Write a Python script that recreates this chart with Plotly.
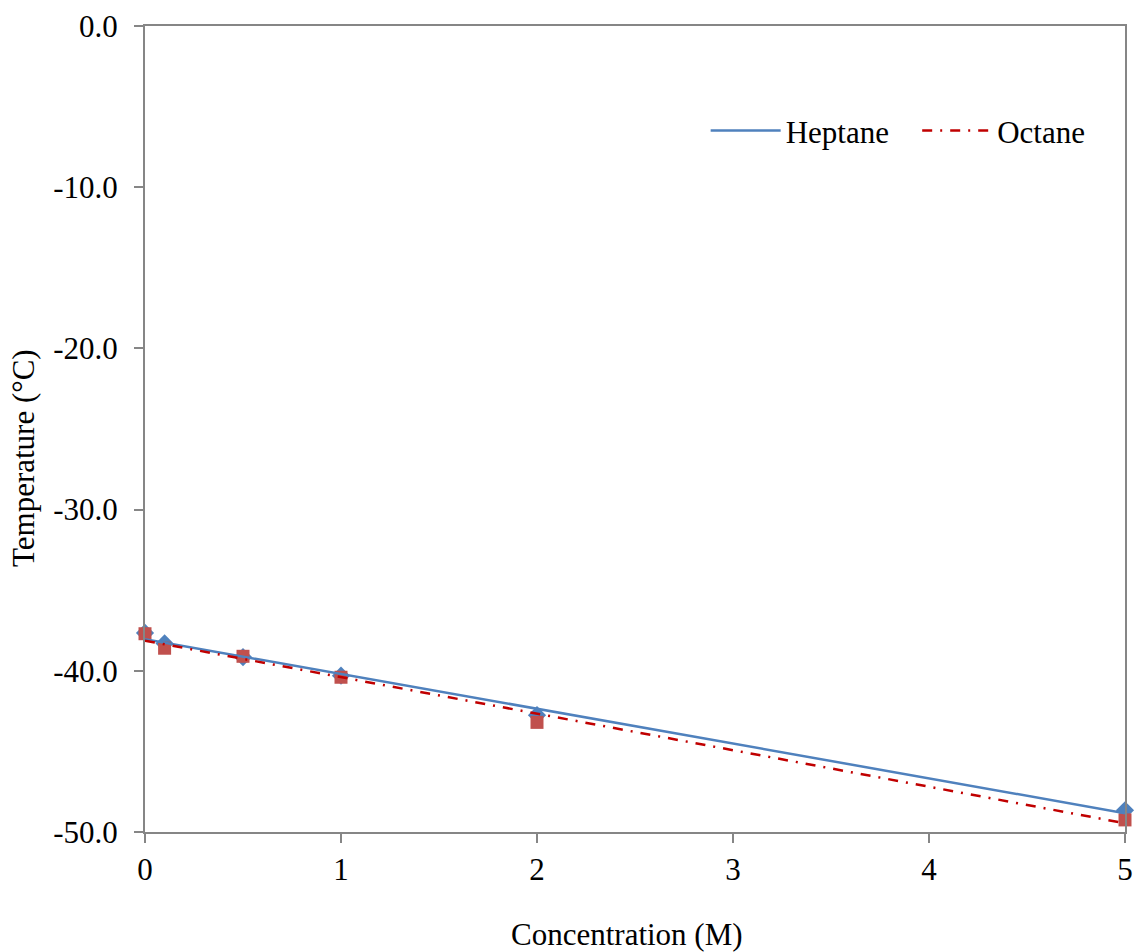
import numpy as np
import plotly.graph_objects as go

# Data
concentration = [0, 0.1, 0.5, 1, 2, 5]
heptane = [-37.65, -38.3, -39.15, -40.3, -42.75, -48.65]
octane = [-37.7, -38.6, -39.1, -40.4, -43.2, -49.25]
series_names = ["Heptane", "Octane"]

x_ticks = [0, 1, 2, 3, 4, 5]
y_ticks = [0, -10, -20, -30, -40, -50]

FONT = "Liberation Serif"
BLUE = "#4F81BD"
RED_M = "#C0504D"
RED_L = "#C00000"
GRID = "#868686"

def linfit(x, y):
    k, b = np.polyfit(np.array(x, float), np.array(y, float), 1)
    xs = np.array([min(x), max(x)], float)
    return xs, k * xs + b

fig = go.Figure()
fig.add_trace(go.Scatter(x=concentration, y=heptane, mode="markers",
                         marker=dict(symbol="diamond", size=14, color=BLUE),
                         showlegend=False, cliponaxis=False))
fig.add_trace(go.Scatter(x=concentration, y=octane, mode="markers",
                         marker=dict(symbol="square", size=13, color=RED_M),
                         showlegend=False, cliponaxis=False))
hx, hy = linfit(concentration, heptane)
ox, oy = linfit(concentration, octane)
fig.add_trace(go.Scatter(x=hx, y=hy, mode="lines",
                         name=series_names[0] + "\u00a0\u00a0\u00a0",
                         line=dict(color=BLUE, width=2.5), cliponaxis=False))
fig.add_trace(go.Scatter(x=ox, y=oy, mode="lines", name=series_names[1],
                         line=dict(color=RED_L, width=2.5, dash="10px,8px,2px,8px"),
                         cliponaxis=False))

tickfont = dict(family=FONT, size=31, color="black")

fig.update_layout(
    width=1139, height=952,
    margin=dict(l=145, r=14, t=26, b=120),
    paper_bgcolor="white", plot_bgcolor="white",
    font=dict(family=FONT, size=31, color="black"),
    legend=dict(orientation="h", x=0.5721, xanchor="left", y=0.87, yanchor="middle",
                bgcolor="rgba(0,0,0,0)", font=dict(family=FONT, size=31), itemwidth=70,
                traceorder="normal"),
    xaxis=dict(range=[0, 5], tickvals=x_ticks, ticktext=[str(v) for v in x_ticks],
               showgrid=False, zeroline=False, showline=True, linecolor=GRID, linewidth=2,
               mirror=True, ticks="outside", ticklen=9, tickwidth=2, tickcolor=GRID,
               ticklabelstandoff=0, tickfont=tickfont, automargin=False),
    yaxis=dict(range=[-50, 0], tickvals=y_ticks, ticktext=[f"{v:.1f}" for v in y_ticks],
               showgrid=False, zeroline=False, showline=True, linecolor=GRID, linewidth=2,
               mirror=True, ticks="outside", ticklen=9, tickwidth=2, tickcolor=GRID,
               ticklabelstandoff=10, tickfont=tickfont, automargin=False),
    annotations=[
        dict(text="Concentration (M)", xref="paper", yref="paper",
             x=(627 - 145) / 980, y=(832 - 934) / 806, xanchor="center", yanchor="middle",
             showarrow=False, font=dict(family=FONT, size=31, color="black")),
        dict(text="Temperature (°C)", xref="paper", yref="paper", textangle=-90,
             x=(24 - 145) / 980, y=(832 - 458) / 806, xanchor="center", yanchor="middle",
             showarrow=False, font=dict(family=FONT, size=31, color="black")),
    ],
)

fig.write_html("out.html")
